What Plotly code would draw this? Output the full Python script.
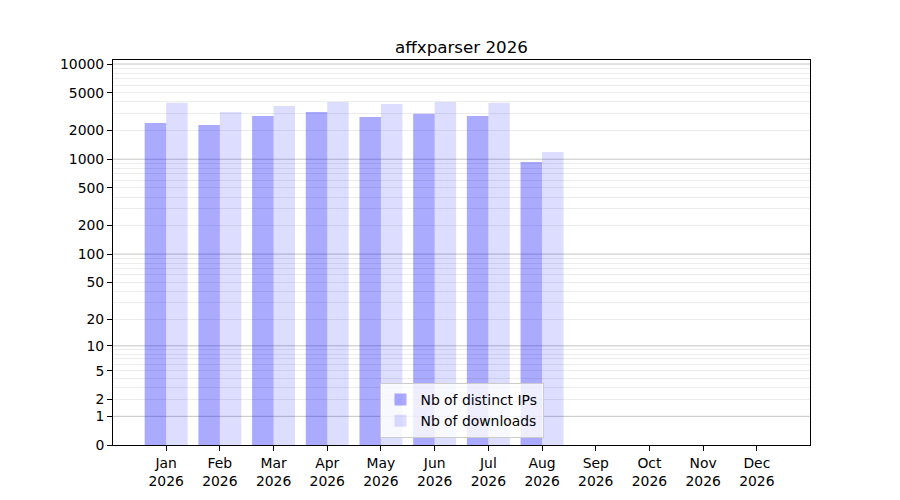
import numpy as np
import plotly.graph_objects as go

months = ["Jan", "Feb", "Mar", "Apr", "May", "Jun",
          "Jul", "Aug", "Sep", "Oct", "Nov", "Dec"]
year = "2026"
nb_ips = [2400, 2290, 2840, 3130, 2780, 3010, 2840, 935]
nb_downloads = [3920, 3130, 3620, 3990, 3800, 3990, 3920, 1190]
ytick_values = [0, 1, 2, 5, 10, 20, 50, 100, 200, 500, 1000, 2000, 5000, 10000]
major_grid = [1, 10, 100, 1000, 10000]
minor_grid = [m * 10 ** k for k in range(4) for m in range(2, 10)]


def tr(v):
    # y axis is log10(1 + value)
    return np.log10(1 + np.asarray(v, dtype=float))


x_pos = list(range(len(months)))
font = "DejaVu Sans"

fig = go.Figure()
fig.add_trace(go.Bar(
    x=x_pos[:len(nb_ips)], y=tr(nb_ips), name="Nb of distinct IPs",
    marker=dict(color="rgba(0,0,255,0.333)", line=dict(width=0)),
    customdata=nb_ips, hovertemplate="%{customdata}<extra></extra>",
))
fig.add_trace(go.Bar(
    x=x_pos[:len(nb_downloads)], y=tr(nb_downloads), name="Nb of downloads",
    marker=dict(color="rgba(0,0,255,0.133)", line=dict(width=0)),
    customdata=nb_downloads, hovertemplate="%{customdata}<extra></extra>",
))

for v in major_grid:
    fig.add_shape(type="line", xref="paper", yref="y", x0=0, x1=1,
                  y0=float(tr(v)), y1=float(tr(v)), layer="below",
                  line=dict(color="#bdbdbd", width=0.9))

# page body has an 8px margin, so the margins are shifted to compensate
fig.update_layout(
    width=900, height=500,
    margin=dict(l=105, r=98, t=52, b=63),
    plot_bgcolor="white", paper_bgcolor="white",
    font=dict(family=font, size=13.9, color="black"),
    barmode="group", bargap=0.2, bargroupgap=0,
    title=dict(text="affxparser 2026", x=0.5, xref="paper", xanchor="center",
               y=1, yref="paper", yanchor="bottom", pad=dict(b=7),
               font=dict(size=16.7, family=font, color="black")),
    legend=dict(x=0.5, xanchor="center", y=0.018, yanchor="bottom",
                bgcolor="rgba(255,255,255,0.8)", bordercolor="#cccccc",
                borderwidth=1, font=dict(size=13.9, family=font)),
    showlegend=True,
)

fig.update_xaxes(
    range=[-0.99, 11.99], tickmode="array", tickvals=x_pos,
    ticktext=[f"{m}<br>{year}" for m in months],
    showgrid=False, zeroline=False, automargin=False,
    showline=True, linecolor="black", linewidth=1, mirror=True,
    ticks="outside", ticklen=5, tickcolor="black",
)
fig.update_yaxes(
    range=[0, 4.042], tickmode="array", tickvals=tr(ytick_values),
    ticktext=[str(v) for v in ytick_values],
    showgrid=False, zeroline=False, automargin=False,
    showline=True, linecolor="black", linewidth=1, mirror=True,
    ticks="outside", ticklen=5, tickcolor="black",
    minor=dict(tickvals=tr(minor_grid), showgrid=True,
               gridcolor="#ececec", gridwidth=0.8, ticks=""),
)

fig.write_html("out.html")
